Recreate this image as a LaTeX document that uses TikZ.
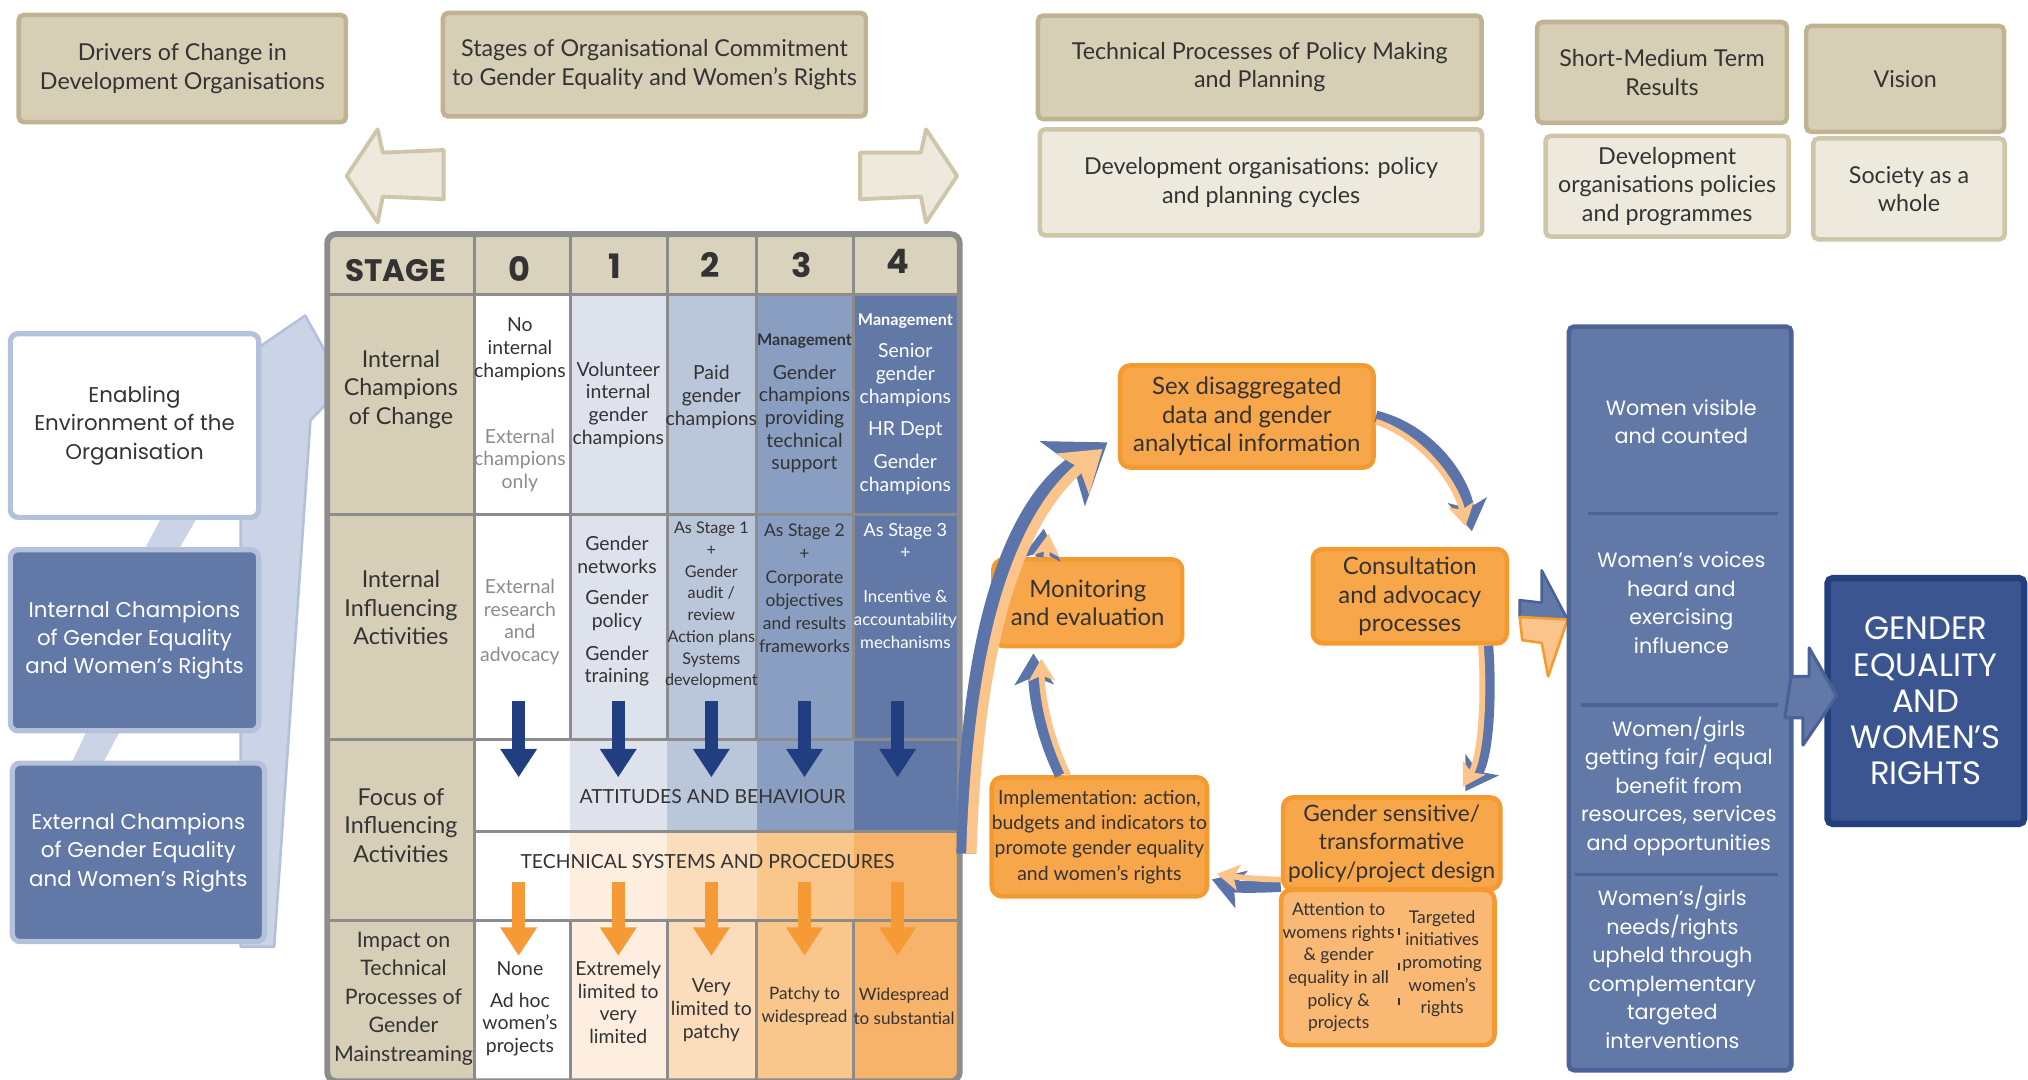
\documentclass[tikz,border=0pt]{standalone}
\usepackage{fontspec}
\setmainfont{Lato}
\newfontfamily\fut{Lato}
\newfontfamily\goth{Poppins}
\usetikzlibrary{arrows.meta,calc}
\definecolor{txt}{HTML}{333333}
\definecolor{txtg}{HTML}{8C8C8C}
\definecolor{tanF}{HTML}{D6CEB5}
\definecolor{tanD}{HTML}{C0B391}
\definecolor{creamF}{HTML}{EDEADD}
\definecolor{creamD}{HTML}{CFC6A9}
\definecolor{hdr}{HTML}{D9D3BE}
\definecolor{lab}{HTML}{D6CEB7}
\definecolor{bA}{HTML}{DDE2EC}
\definecolor{bB}{HTML}{BAC6DA}
\definecolor{bC}{HTML}{8A9EC2}
\definecolor{bD}{HTML}{6279A8}
\definecolor{oA}{HTML}{FDEEDF}
\definecolor{oB}{HTML}{FBDCBB}
\definecolor{oC}{HTML}{F9C68C}
\definecolor{oD}{HTML}{F7B36A}
\definecolor{gridc}{HTML}{8C8C8C}
\definecolor{navy}{HTML}{213F80}
\definecolor{orA}{HTML}{F59A35}
\definecolor{orF}{HTML}{F7A64A}
\definecolor{orD}{HTML}{F59A30}
\definecolor{orL}{HTML}{F9B874}
\definecolor{orP}{HTML}{FBC48A}
\definecolor{lbF}{HTML}{CAD4E6}
\definecolor{lbD}{HTML}{B3C1DB}
\definecolor{colF}{HTML}{6279A8}
\definecolor{colD}{HTML}{4A6298}
\definecolor{geF}{HTML}{3B5590}
\definecolor{geD}{HTML}{233F7E}
\definecolor{cycB}{HTML}{5B75AA}
\begin{document}
\begin{tikzpicture}[x=1pt,y=-1pt,
  txtf/.style={inner sep=0pt, align=center, text=txt},
  topbox/.style={txtf, draw=tanD, fill=tanF, line width=3.5pt, rounded corners=4pt, font=\fut\fontsize{18}{22}\selectfont},
  subbox/.style={topbox, draw=creamD, fill=creamF},
  lbox/.style={txtf, draw=lbD, line width=4pt, rounded corners=6pt, font=\goth\fontsize{16.5}{22}\selectfont},
  obox/.style={txtf, draw=orD, fill=orF, line width=3.5pt, rounded corners=8pt, font=\fut\fontsize{18.5}{22}\selectfont},
  cell/.style={txtf, font=\fut\fontsize{15}{17.5}\selectfont},
  small/.style={txtf, font=\fut\fontsize{13}{17}\selectfont},
  labc/.style={txtf, font=\fut\fontsize{18}{22}\selectfont},
  mgmt/.style={txtf, font=\fut\bfseries\fontsize{12.5}{14}\selectfont},
  gridl/.style={draw=gridc, line width=2.2pt},
  tarrow/.style={line width=10pt, -{Triangle[length=22pt,width=27pt]}},
  cyb/.style={draw=cycB, line width=9pt, -{Stealth[length=24pt,width=30pt,inset=6pt]}},
  cyo/.style={draw=orP, line width=4.5pt, shorten >=4pt, -{Stealth[length=17pt,width=20pt,inset=4pt]}},
  coltxt/.style={txtf, text=white, font=\goth\fontsize{16}{22}\selectfont},
  cream/.style={fill=creamF, draw=creamD, line width=3pt, line join=round}
]
\useasboundingbox (0,0) rectangle (1568,835);
\fill[white] (0,0) rectangle (1568,835);

% ---------------- top row
\node[topbox, minimum width=253pt, minimum height=83pt] (drivers) at (141,53) {Drivers of Change in\\Development Organisations};
\node[topbox, minimum width=327pt, minimum height=80pt] (stages) at (506,50) {Stages of Organisational Commitment\\to Gender Equality and Women’s Rights};
\node[topbox, minimum width=343pt, minimum height=80pt] (techproc) at (974,52) {Technical Processes of Policy Making\\and Planning};
\node[subbox, minimum width=342pt, minimum height=82pt] (devpol) at (975,141) {Development organisations: policy\\and planning cycles};
\node[topbox, minimum width=193pt, minimum height=78pt] (smt) at (1285,56) {Short-Medium Term\\Results};
\node[subbox, minimum width=188pt, minimum height=78pt] (devprog) at (1289,144) {Development\\organisations policies\\and programmes};
\node[topbox, minimum width=153pt, minimum height=82pt] (vision) at (1473,61) {Vision};
\node[subbox, minimum width=148pt, minimum height=78pt] (society) at (1476,146) {Society as a\\whole};

% cream arrows
\draw[cream] (268,136) -- (292,100) -- (296,118) -- (343,116) -- (343,154) -- (296,152) -- (292,172) -- cycle;
\draw[cream] (740,136) -- (716,100) -- (712,118) -- (665,118) -- (665,154) -- (712,152) -- (716,172) -- cycle;

% ---------------- left light-blue arrow
\filldraw[fill=lbF, draw=lbD, line width=2pt, line join=round] (186,732) -- (212,732) -- (240,325) -- (266,298) -- (236,244) -- (198,270) -- (186,300) -- cycle;
\fill[lbF] (108,432) -- (134,432) -- (156,394) -- (128,394) -- cycle;
\fill[lbF] (52,597) -- (76,597) -- (96,559) -- (70,559) -- cycle;

\node[lbox, fill=white, minimum width=192pt, minimum height=142pt] (enabling) at (104,329) {Enabling\\Environment of the\\Organisation};
\node[lbox, fill=colF, text=white, minimum width=192pt, minimum height=140pt] (intch) at (104,495) {Internal Champions\\of Gender Equality\\and Women’s Rights};
\node[lbox, fill=colF, text=white, minimum width=195pt, minimum height=138pt] (extch) at (107,659) {External Champions\\of Gender Equality\\and Women’s Rights};

% ---------------- table
\fill[hdr] (255,183) rectangle (740,228);
\fill[lab] (255,228) rectangle (367,835);
\fill[white] (367,228) rectangle (441,643);
\fill[bA] (441,228) rectangle (516,643);
\fill[bB] (516,228) rectangle (585,643);
\fill[bC] (585,228) rectangle (660,643);
\fill[bD] (660,228) rectangle (740,643);
\fill[white] (367,643) rectangle (441,835);
\fill[oA] (441,643) rectangle (516,835);
\fill[oB] (516,643) rectangle (585,835);
\fill[oC] (585,643) rectangle (660,835);
\fill[oD] (660,643) rectangle (740,835);
\draw[gridl] (255,228) -- (740,228);
\draw[gridl] (255,398) -- (740,398);
\draw[gridl] (255,572) -- (740,572);
\draw[gridl] (367,643) -- (740,643);
\draw[gridl] (255,712) -- (740,712);
\draw[gridl] (367,183) -- (367,835);
\foreach \cx in {441,516,585,660} {
  \draw[gridl] (\cx,183) -- (\cx,572);
  \draw[gridl] (\cx,712) -- (\cx,835);
}
\draw[draw=gridc, line width=4.5pt, rounded corners=7pt] (253,181) rectangle (742,836);

% header
\node[txtf, text=black!80, font=\goth\bfseries\fontsize{24}{24}\selectfont] (stage) at (306,209) {STAGE};
\node[txtf, text=black!80, font=\goth\bfseries\fontsize{26}{26}\selectfont] (s0) at (402,208) {0};
\node[txtf, text=black!80, font=\goth\bfseries\fontsize{26}{26}\selectfont] (s1) at (475,206) {1};
\node[txtf, text=black!80, font=\goth\bfseries\fontsize{26}{26}\selectfont] (s2) at (549,205) {2};
\node[txtf, text=black!80, font=\goth\bfseries\fontsize{26}{26}\selectfont] (s3) at (620,205) {3};
\node[txtf, text=black!80, font=\goth\bfseries\fontsize{26}{26}\selectfont] (s4) at (694,202) {4};

% row labels
\node[labc] (l1) at (310,301) {Internal\\Champions\\of Change};
\node[labc] (l2) at (310,470) {Internal\\Influencing\\Activities};
\node[labc] (l3) at (310,638) {Focus of\\Influencing\\Activities};
\node[labc, font=\fut\fontsize{16.5}{22}\selectfont] (l4) at (312,772) {Impact on\\Technical\\Processes of\\Gender\\Mainstreaming};

% row 1
\node[cell] (c0a) at (402,270) {No\\internal\\champions};
\node[cell, text=txtg] (c0b) at (402,356) {External\\champions\\only};
\node[cell] (c1) at (478,313) {Volunteer\\internal\\gender\\champions};
\node[cell] (c2) at (550,307) {Paid\\gender\\champions};
\node[mgmt] (c3a) at (622,264) {Management};
\node[cell] (c3b) at (622,324) {Gender\\champions\\providing\\technical\\support};
\node[mgmt, text=white] (c4a) at (700,248) {Management};
\node[cell, text=white] (c4b) at (700,290) {Senior\\gender\\champions};
\node[cell, text=white] (c4c) at (700,333) {HR Dept};
\node[cell, text=white] (c4d) at (700,367) {Gender\\champions};

% row 2
\node[cell, text=txtg] (d0) at (402,481) {External\\research\\and\\advocacy};
\node[cell] (d1a) at (477,429) {Gender\\networks};
\node[cell] (d1b) at (477,472) {Gender\\policy};
\node[cell] (d1c) at (477,515) {Gender\\training};
\node[small, font=\fut\fontsize{12.5}{16.8}\selectfont] (d2) at (550,468) {As Stage 1\\+\\Gender\\audit /\\review\\Action plans\\Systems\\development};
\node[small, font=\fut\fontsize{13.5}{18}\selectfont] (d3) at (622,455) {As Stage 2\\+\\Corporate\\objectives\\and results\\frameworks};
\node[small, text=white, font=\fut\fontsize{14}{17}\selectfont] (d4a) at (700,418) {As Stage 3\\+};
\node[small, text=white, font=\fut\fontsize{13}{18}\selectfont] (d4b) at (700,479) {Incentive \&\\accountability\\mechanisms};

% row 3
\node[txtf, font=\fut\fontsize{15}{17}\selectfont] (att) at (551,616) {ATTITUDES AND BEHAVIOUR};
\node[txtf, font=\fut\fontsize{15}{17}\selectfont] (tech) at (547,666) {TECHNICAL SYSTEMS AND PROCEDURES};
\foreach \ax in {401,478,550,622,694} {
  \draw[tarrow, navy] (\ax,542) -- (\ax,601);
  \draw[tarrow, orA] (\ax,682) -- (\ax,739);
}

% row 4
\node[cell] (e0a) at (402,749) {None};
\node[cell] (e0b) at (402,792) {Ad hoc\\women’s\\projects};
\node[cell] (e1) at (478,775) {Extremely\\limited to\\very\\limited};
\node[cell] (e2) at (550,781) {Very\\limited to\\patchy};
\node[small, font=\fut\fontsize{13.2}{18}\selectfont] (e3) at (622,778) {Patchy to\\widespread};
\node[small, font=\fut\fontsize{13.2}{18}\selectfont] (e4) at (699,778) {Widespread\\to substantial};

% ---------------- cycle
\node[txtf, draw=orD, fill=orL, line width=3.5pt, rounded corners=8pt, minimum width=165pt, minimum height=120pt] (gsub) at (1073,748) {};
\node[txtf, font=\fut\fontsize{13.5}{17.5}\selectfont] (gsubl) at (1035,748) {Attention to\\womens rights\\\& gender\\equality in all\\policy \&\\projects};
\node[txtf, font=\fut\fontsize{13.5}{17.5}\selectfont] (gsubr) at (1115,745) {Targeted\\initiatives\\promoting\\women’s\\rights};
\draw[txt, line width=1.3pt, dash pattern=on 5pt off 22pt] (gsubl.north east) ++(3,20) -- ++(0,80);
\node[obox, minimum width=196pt, minimum height=79pt] (sex) at (964,322) {Sex disaggregated\\data and gender\\analytical information};
\node[obox, minimum width=150pt, minimum height=73pt] (consult) at (1090,461) {Consultation\\and advocacy\\processes};
\node[obox, font=\fut\fontsize{17.5}{22}\selectfont, minimum width=168pt, minimum height=71pt] (gsens) at (1076,652) {Gender sensitive/\\transformative\\policy/project design};
\node[obox, font=\fut\fontsize{15}{19.5}\selectfont, minimum width=165pt, minimum height=92pt] (impl) at (850,647) {Implementation: action,\\budgets and indicators to\\promote gender equality\\and women’s rights};
\node[obox, font=\fut\fontsize{18.5}{22}\selectfont, minimum width=146pt, minimum height=67pt] (monit) at (841,466) {Monitoring\\and evaluation};

% cycle arrows
\draw[cyb] (sex.east) .. controls (1105,332) and (1132,370) .. ($(consult.north)+(48,-12)$);
\draw[cyo] ($(sex.east)+(0,4)$) .. controls (1100,338) and (1126,374) .. ($(consult.north)+(44,-12)$);
\draw[cyb] ($(consult.south)+(60,0)$) .. controls (1153,540) and (1150,585) .. ($(gsens.north)+(57,-3)$);
\draw[cyo] ($(consult.south)+(55,0)$) .. controls (1148,540) and (1145,585) .. ($(gsens.north)+(53,-3)$);
\draw[cyb] ($(gsens.west)+(0,33)$) .. controls (975,686) and (955,686) .. ($(impl.east)+(2,33)$);
\draw[cyo] ($(gsens.west)+(0,28)$) .. controls (975,680) and (955,678) .. ($(impl.east)+(2,28)$);
\draw[cyb] ($(impl.north)+(-30,0)$) .. controls (808,575) and (800,545) .. ($(monit.south)+(-42,4)$);
\draw[cyo] ($(impl.north)+(-24,0)$) .. controls (814,575) and (806,545) .. ($(monit.south)+(-36,4)$);
\draw[cyb] ($(monit.north)+(-36,0)$) -- ($(monit.north)+(-34,-22)$);
\draw[cyo] ($(monit.north)+(-32,0)$) -- ($(monit.north)+(-30,-22)$);
\coordinate (bigstart) at (747,660);
\draw[draw=cycB, line width=15pt, -{Stealth[length=42pt,width=60pt,inset=10pt]}] (bigstart) .. controls (748,500) and (780,395) .. ($(sex.west)+(-8,20)$);
\draw[draw=orP, line width=8pt, shorten >=5pt, -{Stealth[length=30pt,width=40pt,inset=7pt]}] ($(bigstart)+(4,0)$) .. controls (756,500) and (786,402) .. ($(sex.west)+(-8,22)$);

% arrow cycle -> column
\filldraw[fill=colF, draw=colD, line width=2pt, line join=round] (1175,464) -- (1192,466) -- (1192,441) -- (1212,479) -- (1175,477) -- cycle;
\filldraw[fill=orP, draw=orD, line width=2pt, line join=round] (1175,477) -- (1212,479) -- (1197,523) -- (1192,497) -- (1177,495) -- cycle;

% ---------------- right column
\node[draw=colD, fill=colF, line width=3.5pt, rounded corners=4pt, minimum width=172pt, minimum height=575pt] (col) at (1299,540) {};
\draw[colD, line width=2.5pt] (1228,397) -- (1375,397);
\draw[colD, line width=2.5pt] (1222,545) -- (1375,545);
\draw[colD, line width=2.5pt] (1218,676) -- (1375,676);
\node[coltxt] (r1) at (1300,326) {Women visible\\and counted};
\node[coltxt] (r2) at (1300,466) {Women’s voices\\heard and\\exercising\\influence};
\node[coltxt] (r3) at (1298,608) {Women/girls\\getting fair/ equal\\benefit from\\resources, services\\and opportunities};
\node[coltxt] (r4) at (1293,748) {Women’s/girls\\needs/rights\\upheld through\\complementary\\targeted\\interventions};

\node[txtf, draw=geD, fill=geF, text=white, line width=5pt, rounded corners=4pt, minimum width=152pt, minimum height=190pt, font=\goth\fontsize{25}{28}\selectfont] (gewr) at (1489,542) {GENDER\\EQUALITY\\AND\\WOMEN’S\\RIGHTS};
\coordinate (gtip) at (1420,538);
\filldraw[fill=colF, draw=colD, line width=2.5pt, line join=round] ($(col.east)+(-2,-17)$) -- ++(14,0) -- ++(0,-22) -- (gtip) -- ++(-26,38) -- ++(0,-21) -- ++(-14,0) -- cycle;
\end{tikzpicture}
\end{document}
